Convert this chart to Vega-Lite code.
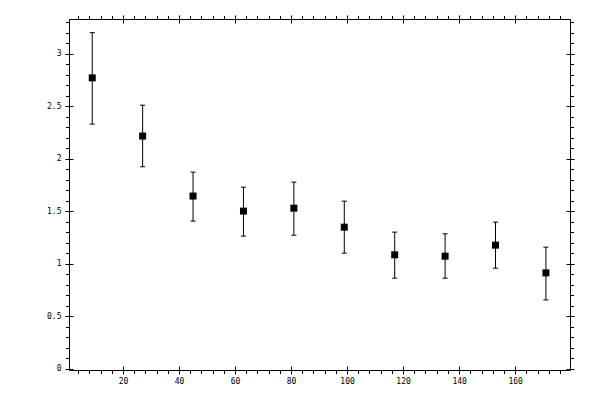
{
  "$schema": "https://vega.github.io/schema/vega-lite/v6.json",
  "width": 501,
  "height": 351,
  "autosize": "none",
  "padding": {"left": 69, "top": 19, "right": 30, "bottom": 30},
  "background": "white",
  "config": {
    "view": {"stroke": "black", "strokeWidth": 1},
    "axis": {
      "domain": false,
      "grid": false,
      "title": null,
      "tickColor": "black",
      "tickWidth": 1,
      "labelColor": "black",
      "labelFont": "DejaVu Sans Mono",
      "labelFontSize": 8,
      "labelFlush": false,
      "labelOverlap": false,
      "format": "~g"
    }
  },
  "data": {
    "values": [
      {"u": 9, "v": 2.77, "lo": 2.33, "hi": 3.2},
      {"u": 27, "v": 2.216, "lo": 1.924, "hi": 2.51},
      {"u": 45, "v": 1.645, "lo": 1.407, "hi": 1.873},
      {"u": 63, "v": 1.502, "lo": 1.264, "hi": 1.73},
      {"u": 81, "v": 1.53, "lo": 1.273, "hi": 1.778},
      {"u": 99, "v": 1.349, "lo": 1.102, "hi": 1.597},
      {"u": 117, "v": 1.086, "lo": 0.864, "hi": 1.302},
      {"u": 135, "v": 1.073, "lo": 0.864, "hi": 1.286},
      {"u": 153, "v": 1.178, "lo": 0.959, "hi": 1.397},
      {"u": 171, "v": 0.914, "lo": 0.657, "hi": 1.159}
    ]
  },
  "resolve": {"axis": {"x": "independent", "y": "independent"}},
  "layer": [
    {
      "mark": {"type": "rule", "color": "black", "strokeWidth": 1},
      "encoding": {
        "x": {"field": "u", "type": "quantitative", "scale": {"domain": [0.7, 179.6], "nice": false, "zero": false},
          "axis": {"orient": "bottom", "format": "d", "values": [20, 40, 60, 80, 100, 120, 140, 160], "tickSize": 8, "offset": -4, "labelPadding": 3}},
        "y": {"field": "lo", "type": "quantitative", "scale": {"domain": [-0.01, 3.33], "nice": false, "zero": false},
          "axis": {"orient": "left", "values": [0, 0.5, 1, 1.5, 2, 2.5, 3], "tickSize": 8, "offset": -4, "labelPadding": 4}},
        "y2": {"field": "hi"}
      }
    },
    {
      "mark": {"type": "tick", "orient": "horizontal", "color": "black", "size": 5, "thickness": 1, "opacity": 1},
      "encoding": {
        "x": {"field": "u", "type": "quantitative",
          "axis": {"orient": "bottom", "labels": false, "tickSize": 3.5, "values": [4, 8, 12, 16, 24, 28, 32, 36, 44, 48, 52, 56, 64, 68, 72, 76, 84, 88, 92, 96, 104, 108, 112, 116, 124, 128, 132, 136, 144, 148, 152, 156, 164, 168, 172, 176]}},
        "y": {"field": "hi", "type": "quantitative",
          "axis": {"orient": "left", "labels": false, "tickSize": 3.5, "values": [0.1, 0.2, 0.3, 0.4, 0.6, 0.7, 0.8, 0.9, 1.1, 1.2, 1.3, 1.4, 1.6, 1.7, 1.8, 1.9, 2.1, 2.2, 2.3, 2.4, 2.6, 2.7, 2.8, 2.9, 3.1, 3.2, 3.3]}}
      }
    },
    {
      "mark": {"type": "tick", "orient": "horizontal", "color": "black", "size": 5, "thickness": 1, "opacity": 1},
      "encoding": {
        "x": {"field": "u", "type": "quantitative",
          "axis": {"orient": "top", "labels": false, "values": [20, 40, 60, 80, 100, 120, 140, 160], "tickSize": 8, "offset": -4}},
        "y": {"field": "lo", "type": "quantitative",
          "axis": {"orient": "right", "labels": false, "values": [0, 0.5, 1, 1.5, 2, 2.5, 3], "tickSize": 8, "offset": -4}}
      }
    },
    {
      "mark": {"type": "square", "color": "black", "size": 49, "opacity": 1},
      "encoding": {
        "x": {"field": "u", "type": "quantitative",
          "axis": {"orient": "top", "labels": false, "tickSize": 3.5, "values": [4, 8, 12, 16, 24, 28, 32, 36, 44, 48, 52, 56, 64, 68, 72, 76, 84, 88, 92, 96, 104, 108, 112, 116, 124, 128, 132, 136, 144, 148, 152, 156, 164, 168, 172, 176]}},
        "y": {"field": "v", "type": "quantitative",
          "axis": {"orient": "right", "labels": false, "tickSize": 3.5, "values": [0.1, 0.2, 0.3, 0.4, 0.6, 0.7, 0.8, 0.9, 1.1, 1.2, 1.3, 1.4, 1.6, 1.7, 1.8, 1.9, 2.1, 2.2, 2.3, 2.4, 2.6, 2.7, 2.8, 2.9, 3.1, 3.2, 3.3]}}
      }
    }
  ]
}
